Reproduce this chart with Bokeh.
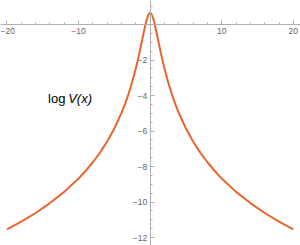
from bokeh.plotting import figure
from bokeh.models import LinearAxis, FixedTicker, Label
from bokeh.embed import file_html
from bokeh.resources import INLINE

# data
x_vals = [-20, -18, -16, -14, -12, -10, -9, -8, -7, -6, -5, -4, -3.5, -3, -2.5, -2,
          -1.75, -1.5, -1.25, -1, -0.75, -0.5, -0.25, 0,
          0.25, 0.5, 0.75, 1, 1.25, 1.5, 1.75, 2, 2.5, 3, 3.5, 4, 5, 6, 7, 8, 9, 10,
          12, 14, 16, 18, 20]
logV = [-11.54, -11.11, -10.62, -10.06, -9.43, -8.68, -8.24, -7.76, -7.22, -6.59,
        -5.86, -4.98, -4.47, -3.89, -3.23, -2.48, -2.06, -1.61, -1.14, -0.65, -0.18,
        0.25, 0.55, 0.66,
        0.55, 0.25, -0.18, -0.65, -1.14, -1.61, -2.06, -2.48, -3.23, -3.89, -4.47,
        -4.98, -5.86, -6.59, -7.22, -7.76, -8.24, -8.68, -9.43, -10.06, -10.62,
        -11.11, -11.54]

x_major = [-20, -10, 10, 20]
x_minor = [-18, -16, -14, -12, -8, -6, -4, -2, 2, 4, 6, 8, 12, 14, 16, 18]
y_major = [-12, -10, -8, -6, -4, -2]
y_minor = [v / 2 for v in range(-24, 3) if v % 4 != 0]

AXIS = "#b0b0b0"
LABEL = "#666666"
FONT = "Liberation Sans"

p = figure(width=300, height=245, x_range=(-20.9, 21.0), y_range=(-12.45, 1.352),
           output_backend="svg", toolbar_location=None, min_border=0,
           x_axis_type=None, y_axis_type=None, outline_line_color=None)
p.xgrid.visible = False
p.ygrid.visible = False

xaxis = LinearAxis(fixed_location=0, ticker=FixedTicker(ticks=x_major, minor_ticks=x_minor),
                   major_label_overrides={v: ("\u2212" + str(-v)) if v < 0 else str(v) for v in x_major})
yaxis = LinearAxis(fixed_location=0, ticker=FixedTicker(ticks=y_major, minor_ticks=y_minor),
                   major_label_overrides={v: "\u2212" + str(-v) for v in y_major})
for ax in (xaxis, yaxis):
    ax.axis_line_color = AXIS
    ax.axis_line_width = 1
    ax.major_tick_line_color = AXIS
    ax.minor_tick_line_color = AXIS
    ax.major_tick_in = 4
    ax.major_tick_out = 0
    ax.minor_tick_in = 2
    ax.minor_tick_out = 0
    ax.major_label_text_color = LABEL
    ax.major_label_text_font = FONT
    ax.major_label_text_font_size = "8.5px"
xaxis.major_label_standoff = 4
yaxis.major_label_standoff = 3
p.add_layout(xaxis, "below")
p.add_layout(yaxis, "left")

p.line(x_vals, logV, line_color="#E8652F", line_width=2)

p.add_layout(Label(x=-14.25, y=-4.17, text="log", text_font=FONT, text_font_size="13px",
                   text_color="black", text_baseline="alphabetic"))
p.add_layout(Label(x=-11.45, y=-4.17, text="V(x)", text_font=FONT, text_font_size="13px",
                   text_font_style="italic", text_color="black", text_baseline="alphabetic"))

open("out.html", "w").write(file_html(p, INLINE))
